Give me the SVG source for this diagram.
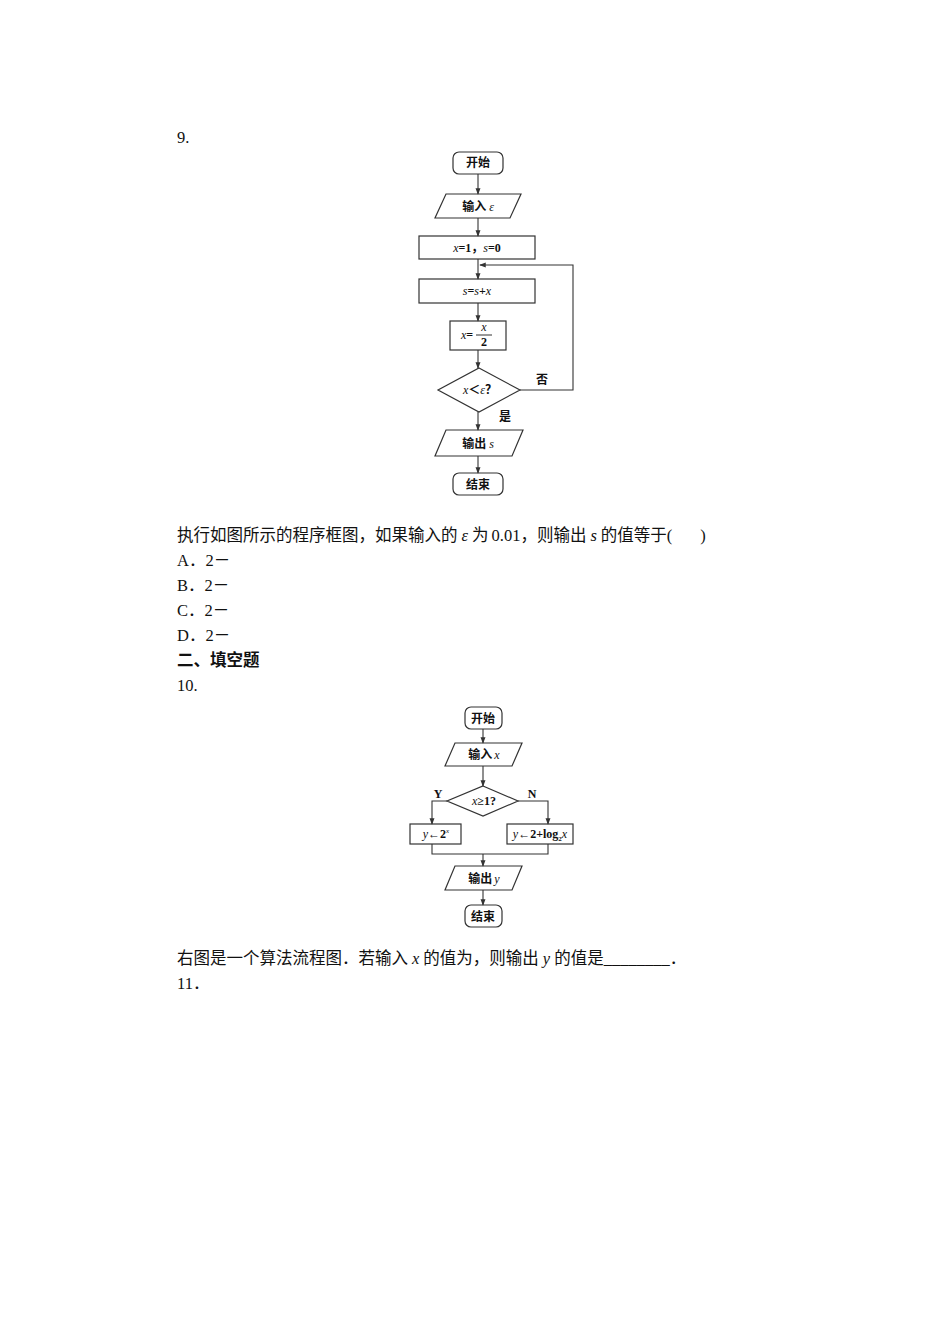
<svg xmlns="http://www.w3.org/2000/svg" width="950" height="1344" viewBox="0 0 950 1344">
<defs><marker id="a" viewBox="0 0 8 8" refX="7" refY="4" markerWidth="6" markerHeight="6" orient="auto"><path d="M0,1 L8,4 L0,7 z" fill="#333"/></marker></defs>
<style>
.s{fill:#fff;stroke:#333;stroke-width:1.2}
.c{fill:none;stroke:#333;stroke-width:1.1;marker-end:url(#a)}
.l{fill:none;stroke:#333;stroke-width:1.1}
.t{font-family:"Liberation Serif","Noto Sans CJK SC",serif;font-size:12px;font-weight:bold;fill:#111;text-anchor:middle}
.i{font-style:italic;font-weight:normal}
.b{font-family:"Liberation Serif","Noto Sans CJK SC",serif;font-size:16.5px;fill:#111}
</style>
<rect width="950" height="1344" fill="#fff"/>
<text class="b" x="177" y="143">9.</text>
<g id="n1"><rect class="s" x="453" y="152" width="50" height="22" rx="6"/><text class="t" x="478" y="167">开始</text></g>
<g id="n2"><polygon class="s" points="446,194 521,194 510,218 435,218"/><text class="t" x="478" y="211">输入<tspan class="i" dx="3">ε</tspan></text></g>
<g id="n3"><rect class="s" x="419" y="236" width="116" height="23"/><text class="t" x="477" y="252"><tspan class="i">x</tspan>=1，<tspan class="i">s</tspan>=0</text></g>
<g id="n4"><rect class="s" x="419" y="279" width="116" height="24"/><text class="t" x="477" y="295"><tspan class="i">s</tspan>=<tspan class="i">s</tspan>+<tspan class="i">x</tspan></text></g>
<g id="n5"><rect class="s" x="450" y="321" width="56" height="29"/><text class="t" x="467" y="339"><tspan class="i">x</tspan>=</text><line x1="476" y1="335" x2="492" y2="335" stroke="#333"/><text class="t i" x="484" y="331" font-size="10">x</text><text class="t" x="484" y="346" font-size="11">2</text></g>
<g id="n6"><polygon class="s" points="479,368 520,390 479,412 438,390"/><text class="t" x="480" y="394"><tspan class="i">x</tspan>＜<tspan class="i">ε</tspan>？</text></g>
<g id="n7"><polygon class="s" points="446,430 523,430 512,456 435,456"/><text class="t" x="478" y="448">输出<tspan class="i" dx="3">s</tspan></text></g>
<g id="n8"><rect class="s" x="453" y="473" width="50" height="22" rx="6"/><text class="t" x="478" y="489">结束</text></g>
<g id="e1">
<line class="c" x1="478" y1="174" x2="478" y2="194"/>
<line class="c" x1="478" y1="218" x2="478" y2="236"/>
<line class="c" x1="478" y1="259" x2="478" y2="279"/>
<line class="c" x1="478" y1="303" x2="478" y2="321"/>
<line class="c" x1="478" y1="350" x2="478" y2="368"/>
<line class="c" x1="478" y1="412" x2="478" y2="430"/>
<line class="c" x1="478" y1="456" x2="478" y2="473"/>
<polyline class="c" points="520,390 573,390 573,265 480,265"/>
</g>
<text class="t" x="542" y="384" font-weight="normal">否</text>
<text class="t" x="505" y="421">是</text>
<text class="b" x="177" y="541">执行如图所示的程序框图，如果输入的<tspan font-style="italic" dx="4">ε</tspan><tspan dx="4">为</tspan><tspan dx="3">0.01</tspan>，则输出<tspan font-style="italic" dx="4">s</tspan><tspan dx="4">的值等于</tspan>(<tspan dx="28">)</tspan></text>
<text class="b" x="177" y="566">A．2－</text>
<text class="b" x="177" y="591">B．2－</text>
<text class="b" x="177" y="616">C．2－</text>
<text class="b" x="177" y="641">D．2－</text>
<text class="b" x="177" y="666" font-weight="bold">二、填空题</text>
<text class="b" x="177" y="691">10.</text>
<g id="m1"><rect class="s" x="465" y="707" width="37" height="22" rx="6"/><text class="t" x="483" y="723">开始</text></g>
<g id="m2"><polygon class="s" points="455,743 522,743 512,766 445,766"/><text class="t" x="484" y="759">输入<tspan class="i" dx="2">x</tspan></text></g>
<g id="m3"><polygon class="s" points="483,786 518,801 483,816 447,801"/><text class="t" x="484" y="805"><tspan class="i">x</tspan>≥1?</text></g>
<g id="m4"><rect class="s" x="410" y="824" width="51" height="20"/><text class="t" x="436" y="838"><tspan class="i">y</tspan>←2<tspan class="i" font-size="7" dy="-5">x</tspan></text></g>
<g id="m5"><rect class="s" x="507" y="824" width="66" height="20"/><text class="t" x="540" y="838"><tspan class="i">y</tspan>←2+log<tspan font-size="7" dy="3">2</tspan><tspan class="i" dy="-3">x</tspan></text></g>
<g id="m6"><polygon class="s" points="455,866 522,866 512,890 445,890"/><text class="t" x="484" y="883">输出<tspan class="i" dx="2">y</tspan></text></g>
<g id="m7"><rect class="s" x="465" y="905" width="37" height="22" rx="6"/><text class="t" x="483" y="921">结束</text></g>
<g id="e2">
<line class="c" x1="483" y1="729" x2="483" y2="743"/>
<line class="c" x1="483" y1="766" x2="483" y2="786"/>
<polyline class="c" points="447,801 432,801 432,824"/>
<polyline class="c" points="518,801 548,801 548,824"/>
<polyline class="l" points="432,844 432,854 548,854 548,844"/>
<line class="c" x1="483" y1="854" x2="483" y2="866"/>
<line class="c" x1="483" y1="890" x2="483" y2="905"/>
</g>
<text class="t" x="438" y="798" font-weight="normal">Y</text>
<text class="t" x="532" y="798" font-weight="normal">N</text>
<text class="b" x="177" y="964">右图是一个算法流程图．若输入<tspan font-style="italic" dx="4">x</tspan><tspan dx="4">的值为，则输出</tspan><tspan font-style="italic" dx="4">y</tspan><tspan dx="4">的值是________．</tspan></text>
<text class="b" x="177" y="989">11．</text>
</svg>
